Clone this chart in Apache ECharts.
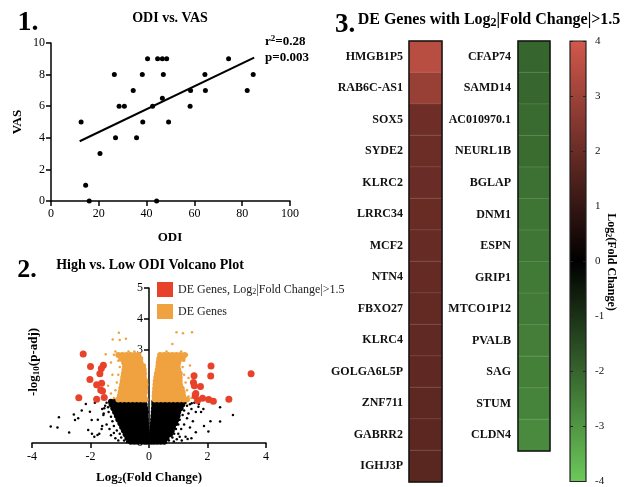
<!DOCTYPE html>
<html>
<head>
<meta charset="utf-8">
<script src="https://cdn.jsdelivr.net/npm/echarts@6/dist/echarts.min.js"></script>
<style>
  html, body { margin: 0; padding: 0; background: #fff; }
  #chart { width: 634px; height: 487px; }
</style>
</head>
<body>
<div id="chart"></div>
<script>
// panel 1: ODI vs VAS
const odiValues = [12.6, 14.5, 16, 20.5, 26.5, 27, 28.5, 30.7, 34.4, 35.8, 38.2, 38.4, 40.4, 42.5, 44.2, 44.6, 46.6, 48.4, 47, 46.6, 49.2, 58.2, 58.4, 64.4, 64.6, 74.3, 82.1, 84.6];
const vasValues = [5, 1, 0, 3, 8, 4, 6, 6, 7, 4, 8, 5, 9, 6, 0, 9, 9, 9, 8, 6.5, 5, 6, 7, 8, 7, 9, 7, 8];
const fitLine = [[12, 3.78], [85, 9.08]];
const xTicks1 = [0, 20, 40, 60, 80, 100];
const yTicks1 = [0, 2, 4, 6, 8, 10];

// panel 2: volcano (log2 fold change, -log10 p-adj)
const redPoints = [[3.49, 2.23], [2.12, 2.48], [2.11, 2.16], [1.54, 2.17], [1.52, 1.95], [1.55, 1.85], [1.76, 1.82],
  [1.58, 1.52], [1.83, 1.44], [1.66, 1.37], [2.04, 1.40], [2.20, 1.35], [2.73, 1.41], [1.6, 1.6],
  [-2.25, 2.87], [-2.0, 2.47], [-1.56, 2.51], [-1.63, 2.40], [-1.68, 2.23], [-2.02, 2.05], [-1.62, 1.93],
  [-1.79, 1.88], [-1.65, 1.71], [-1.59, 1.68], [-2.40, 1.46], [-1.79, 1.41], [-1.53, 1.47]];

const blackCoreRows = [
  [0.04, [-0.62, -0.5, -0.38, -0.26, -0.15, -0.07, 0.07, 0.17, 0.28, 0.4, 0.52]],
  [0.16, [-0.74, -0.61, -0.48, -0.35, -0.22, -0.1, 0.09, 0.22, 0.35, 0.48, 0.6]],
  [0.28, [-0.8, -0.67, -0.54, -0.41, -0.28, -0.16, -0.07, 0.1, 0.23, 0.37, 0.51, 0.64, 0.72]],
  [0.40, [-0.86, -0.73, -0.6, -0.47, -0.34, -0.21, -0.09, 0.11, 0.25, 0.39, 0.53, 0.67, 0.78]],
  [0.52, [-0.92, -0.79, -0.66, -0.53, -0.4, -0.27, -0.15, -0.1, 0.12, 0.26, 0.4, 0.54, 0.68, 0.82]],
  [0.64, [-0.98, -0.84, -0.7, -0.56, -0.42, -0.28, -0.16, -0.1, 0.13, 0.27, 0.41, 0.55, 0.69, 0.83, 0.9]],
  [0.76, [-1.05, -0.91, -0.77, -0.63, -0.49, -0.35, -0.22, -0.11, 0.14, 0.28, 0.42, 0.56, 0.7, 0.84, 0.94]],
  [0.88, [-1.1, -0.96, -0.82, -0.68, -0.54, -0.4, -0.26, -0.13, 0.15, 0.29, 0.43, 0.57, 0.71, 0.85, 0.98]],
  [1.00, [-1.16, -1.02, -0.88, -0.74, -0.6, -0.46, -0.32, -0.19, -0.12, 0.16, 0.3, 0.44, 0.58, 0.72, 0.86, 1.0]],
  [1.12, [-1.22, -1.08, -0.94, -0.8, -0.66, -0.52, -0.38, -0.25, -0.13, 0.17, 0.31, 0.45, 0.59, 0.73, 0.87, 1.01, 1.08]],
  [1.24, [-1.28, -1.14, -1.0, -0.86, -0.72, -0.58, -0.44, -0.3, -0.15, 0.18, 0.32, 0.46, 0.6, 0.74, 0.88, 1.02, 1.14]],
  [1.33, [-1.3, -1.16, -1.02, -0.88, -0.74, -0.6, -0.46, -0.32, -0.18, 0.18, 0.32, 0.46, 0.6, 0.74, 0.88, 1.02, 1.16]]
];
const blackSparse = [[-1.45, 1.3], [-1.4, 1.15], [-1.38, 1.0], [-1.3, 0.85], [-1.25, 0.7], [-1.2, 0.55], [-1.1, 0.4],
  [-1.0, 0.3], [-0.95, 0.18], [-0.85, 0.08], [-0.75, 0.03], [-1.5, 1.2], [-1.55, 0.95], [-1.45, 0.6], [-1.35, 0.45],
  [-1.3, 0.25], [-1.15, 0.15], [-1.6, 0.55], [-1.7, 0.3], [-1.75, 0.75], [-1.6, 1.1], [-1.05, 0.08], [-1.2, 0.32],
  [1.25, 1.3], [1.3, 1.2], [1.2, 1.05], [1.15, 0.9], [1.05, 0.75], [1.0, 0.6], [0.92, 0.45], [0.86, 0.3], [0.8, 0.18],
  [0.68, 0.08], [1.4, 1.25], [1.45, 1.1], [1.35, 0.95], [1.3, 0.8], [1.2, 0.6], [1.1, 0.45], [1.0, 0.3], [0.95, 0.12],
  [1.5, 0.7], [1.4, 0.5], [1.55, 1.3], [1.6, 1.0], [1.25, 0.2], [0.85, 0.05], [1.12, 0.08], [1.05, 0.2],
  [-3.36, 0.53], [-3.13, 0.5], [-3.08, 0.83], [-2.73, 0.34], [-2.57, 0.92], [-2.53, 0.74], [-2.42, 0.8],
  [-2.16, 1.26], [-2.02, 1.01], [-1.96, 0.74], [-2.08, 0.42], [-1.95, 0.3], [-1.76, 0.26], [-1.62, 0.45],
  [-1.56, 0.9], [-1.53, 1.12], [-1.85, 1.3], [-1.87, 0.2], [-2.3, 1.05],
  [1.46, 1.28], [1.69, 1.17], [1.86, 1.1], [2.43, 1.15], [2.87, 0.9], [1.88, 0.55], [2.03, 0.37], [2.43, 0.69],
  [1.32, 0.13], [1.6, 0.35], [2.1, 0.7], [1.7, 1.26], [1.78, 1.0], [1.45, 0.15]];

const orangeCoreRows = [
  [1.40, [-1.05, -0.91, -0.77, -0.63, -0.49, -0.35, -0.22, -0.12, 0.2, 0.34, 0.48, 0.62, 0.76, 0.9, 1.04, 1.18, 1.3]],
  [1.52, [-1.0, -0.86, -0.72, -0.58, -0.44, -0.3, -0.17, 0.19, 0.33, 0.47, 0.61, 0.75, 0.89, 1.03, 1.17]],
  [1.64, [-0.97, -0.83, -0.69, -0.55, -0.41, -0.27, -0.14, 0.2, 0.34, 0.48, 0.62, 0.76, 0.9, 1.04, 1.15]],
  [1.76, [-0.95, -0.81, -0.67, -0.53, -0.39, -0.25, -0.13, 0.21, 0.35, 0.49, 0.63, 0.77, 0.91, 1.05, 1.12]],
  [1.88, [-0.92, -0.78, -0.64, -0.5, -0.36, -0.22, -0.12, 0.22, 0.36, 0.5, 0.64, 0.78, 0.92, 1.06]],
  [2.00, [-0.9, -0.76, -0.62, -0.48, -0.34, -0.2, -0.12, 0.23, 0.37, 0.51, 0.65, 0.79, 0.93, 1.05]],
  [2.12, [-0.88, -0.74, -0.6, -0.46, -0.32, -0.18, 0.25, 0.39, 0.53, 0.67, 0.81, 0.95, 1.05]],
  [2.24, [-0.86, -0.72, -0.58, -0.44, -0.3, -0.17, 0.27, 0.41, 0.55, 0.69, 0.83, 0.97, 1.05]],
  [2.36, [-0.84, -0.7, -0.56, -0.42, -0.28, -0.18, 0.3, 0.44, 0.58, 0.72, 0.86, 1.0]],
  [2.48, [-0.82, -0.68, -0.54, -0.4, -0.26, -0.2, 0.32, 0.46, 0.6, 0.74, 0.88, 0.98]],
  [2.60, [-0.85, -0.71, -0.57, -0.43, -0.29, 0.33, 0.47, 0.61, 0.75, 0.89, 1.0]],
  [2.72, [-0.95, -0.81, -0.67, -0.53, -0.39, -0.3, 0.35, 0.49, 0.63, 0.77, 0.91, 1.05, 1.15]],
  [2.84, [-1.05, -0.91, -0.77, -0.63, -0.49, -0.36, 0.38, 0.52, 0.66, 0.8, 0.94, 1.08, 1.22]]
];
const orangeSparse = [[-1.2, 1.45], [-1.15, 1.7], [-1.1, 1.95], [-1.05, 2.2], [-1.0, 2.45], [-1.05, 2.65], [-1.2, 2.85],
  [-1.3, 2.6], [-1.25, 2.2], [-1.3, 1.6], [-1.4, 1.85], [-1.48, 2.86], [-1.03, 3.56], [-1.0, 3.32], [-1.24, 3.34],
  [-0.79, 3.36], [-0.5, 2.95], [-0.7, 2.95], [-1.15, 2.95],
  [1.35, 1.5], [1.3, 1.7], [1.25, 1.95], [1.2, 2.2], [1.15, 2.45], [1.2, 2.65], [1.3, 2.85], [1.35, 2.1], [1.45, 1.45],
  [1.5, 1.6], [1.4, 2.5], [0.94, 3.57], [1.16, 3.54], [1.47, 3.57], [0.8, 3.19], [1.1, 2.95], [0.6, 2.95]];

// panel 3: heatmap
const upGenes = ['HMGB1P5', 'RAB6C-AS1', 'SOX5', 'SYDE2', 'KLRC2', 'LRRC34', 'MCF2', 'NTN4', 'FBXO27', 'KLRC4', 'GOLGA6L5P', 'ZNF711', 'GABRR2', 'IGHJ3P'];
const upLog2FC = [3.5, 2.9, 2.1, 2.05, 2.0, 1.98, 1.95, 1.92, 1.88, 1.85, 1.82, 1.8, 1.76, 1.72];
const downGenes = ['CFAP74', 'SAMD14', 'AC010970.1', 'NEURL1B', 'BGLAP', 'DNM1', 'ESPN', 'GRIP1', 'MTCO1P12', 'PVALB', 'SAG', 'STUM', 'CLDN4'];
const downLog2FC = [-2.0, -2.05, -2.1, -2.15, -2.25, -2.3, -2.35, -2.4, -2.45, -2.5, -2.55, -2.62, -2.75];

const SERIF = '"Liberation Serif", "Times New Roman", serif';

const rowsToPoints = rows => {
  let pts = [];
  rows.forEach(r => r[1].forEach(x => pts.push([x, r[0]])));
  return pts;
};

const axisBase = (extra) => Object.assign({
  axisLine: { lineStyle: { color: '#000', width: 1.5 } },
  axisTick: { show: true, inside: false, length: 5, lineStyle: { color: '#000', width: 1.5 } },
  axisLabel: { color: '#000', fontFamily: SERIF, fontSize: 12 },
  splitLine: { show: false }
}, extra);

const txt = (x, y, text, size, opts) => Object.assign({
  type: 'text', x: x, y: y, z: 20,
  style: Object.assign({
    text: text, fill: '#000', fontFamily: SERIF, fontSize: size, fontWeight: 'bold',
    align: 'center', verticalAlign: 'middle'
  }, (opts && opts.style) || {})
}, (opts && opts.el) || {});

const subRich = (size) => ({
  b: { fontFamily: SERIF, fontSize: size, fontWeight: 'bold', fill: '#000', color: '#000' },
  s: { fontFamily: SERIF, fontSize: size - 4, fontWeight: 'bold', fill: '#000', color: '#000', verticalAlign: 'bottom', padding: [6, 0, 0, 0] },
  p: { fontFamily: SERIF, fontSize: size - 4, fontWeight: 'bold', fill: '#000', color: '#000', verticalAlign: 'top', padding: [0, 0, 6, 0] }
});

const dots = (name, size, color, data, z) => ({
  type: 'scatter', name: name, xAxisIndex: 1, yAxisIndex: 1, symbolSize: size, z: z || 2,
  itemStyle: { color: color, opacity: 1 }, data: data
});

const getOption = () => {
  return {
    animation: false,
    backgroundColor: '#fff',
    grid: [
      { left: 51, top: 43, width: 239, height: 158 },
      { left: 32, top: 288, width: 234, height: 155 },
      { left: 409, top: 41, width: 33, height: 441, show: true, borderColor: '#111', borderWidth: 1.5, z: 5 },
      { left: 518, top: 41, width: 32, height: 410, show: true, borderColor: '#111', borderWidth: 1.5, z: 5 },
      { left: 570, top: 41, width: 16, height: 441, show: true, borderColor: '#222', borderWidth: 1.2, zlevel: 1 }
    ],
    xAxis: [
      axisBase({ gridIndex: 0, type: 'value', min: xTicks1[0], max: xTicks1[xTicks1.length - 1], interval: 20,
        axisLabel: { color: '#000', fontFamily: SERIF, fontSize: 12, margin: 7 } }),
      axisBase({ gridIndex: 1, type: 'value', min: -4, max: 4, interval: 2,
        axisLabel: { color: '#000', fontFamily: SERIF, fontSize: 12, margin: 8 } }),
      { gridIndex: 2, type: 'category', data: [''], show: false },
      { gridIndex: 3, type: 'category', data: [''], show: false },
      { gridIndex: 4, type: 'value', min: 0, max: 1, show: false }
    ],
    yAxis: [
      axisBase({ gridIndex: 0, type: 'value', min: yTicks1[0], max: yTicks1[yTicks1.length - 1], interval: 2,
        axisLabel: { color: '#000', fontFamily: SERIF, fontSize: 12, margin: 6 } }),
      axisBase({ gridIndex: 1, type: 'value', min: 0, max: 5, interval: 1, position: 'left', offset: -117,
        axisLine: { onZero: false, lineStyle: { color: '#000', width: 1.5 } },
        axisLabel: { color: '#000', fontFamily: SERIF, fontSize: 12, margin: 6 } }),
      { gridIndex: 2, type: 'category', data: upGenes, inverse: true,
        axisLine: { show: false }, axisTick: { show: false },
        axisLabel: { color: '#111', fontFamily: SERIF, fontSize: 12, fontWeight: 'bold', margin: 6 } },
      { gridIndex: 3, type: 'category', data: downGenes, inverse: true,
        axisLine: { show: false }, axisTick: { show: false },
        axisLabel: { color: '#111', fontFamily: SERIF, fontSize: 12, fontWeight: 'bold', margin: 7 } },
      { gridIndex: 4, type: 'value', min: -4, max: 4, interval: 1, position: 'right', zlevel: 1,
        axisLine: { show: false }, axisTick: { show: false },
        splitLine: { show: true, lineStyle: { color: '#222', width: 1, type: [3, 10] } },
        axisLabel: { color: '#111', fontFamily: SERIF, fontSize: 11, margin: 9 } }
    ],
    visualMap: {
      type: 'continuous', min: -4, max: 4, seriesIndex: [7, 8], calculable: false,
      left: 570, top: 41, itemWidth: 16, itemHeight: 441, padding: 0, text: null,
      inRange: { color: ['#6cc95a', '#000000', '#d2584b'] }
    },
    legend: {
      orient: 'vertical', left: 157, top: 282, padding: 0, itemGap: 7, itemWidth: 16, itemHeight: 15, icon: 'rect',
      data: ['DEFC', 'DE Genes'], selectedMode: false,
      formatter: (name) => name === 'DEFC' ? '{t|DE Genes, Log}{s|2}{t||Fold Change|>1.5}' : '{t|DE Genes}',
      textStyle: {
        rich: {
          t: { fontFamily: SERIF, fontSize: 12, color: '#222' },
          s: { fontFamily: SERIF, fontSize: 8, color: '#222', verticalAlign: 'bottom', padding: [5, 0, 0, 0] }
        }
      }
    },
    series: [
      { type: 'scatter', xAxisIndex: 0, yAxisIndex: 0, symbolSize: 5, itemStyle: { color: '#000', opacity: 1 },
        data: odiValues.map((v, i) => [v, vasValues[i]]) },
      { type: 'line', xAxisIndex: 0, yAxisIndex: 0, data: fitLine, symbol: 'none',
        lineStyle: { color: '#000', width: 2 } },
      dots('ns', 6, '#000', rowsToPoints(blackCoreRows)),
      dots('ns', 2.5, '#000', blackSparse),
      dots('DE Genes', 6, '#EFA23F', rowsToPoints(orangeCoreRows)),
      dots('DE Genes', 2.5, '#EFA23F', orangeSparse),
      dots('DEFC', 7, '#E8422B', redPoints, 4),
      { type: 'heatmap', xAxisIndex: 2, yAxisIndex: 2,
        itemStyle: { borderColor: 'rgba(255,255,255,0.12)', borderWidth: 1 },
        data: upLog2FC.map((v, i) => [0, i, v]) },
      { type: 'heatmap', xAxisIndex: 3, yAxisIndex: 3,
        itemStyle: { borderColor: 'rgba(255,255,255,0.12)', borderWidth: 1 },
        data: downLog2FC.map((v, i) => [0, i, v]) }
    ],
    graphic: [
      txt(28, 23, '1.', 28),
      txt(170, 18, 'ODI vs. VAS', 14),
      txt(265, 42, '{b|r}{p|2}{b|=0.28}', 13, { style: { align: 'left', rich: subRich(13) } }),
      txt(265, 58, 'p=0.003', 13, { style: { align: 'left' } }),
      txt(18, 122, 'VAS', 13, { el: { rotation: Math.PI / 2 } }),
      txt(170, 238, 'ODI', 13),
      txt(27, 270, '2.', 26),
      txt(150, 265, 'High vs. Low ODI Volcano Plot', 14),
      txt(34, 362, '{b|-log}{s|10}{b|(p-adj)}', 13, { el: { rotation: Math.PI / 2 }, style: { rich: subRich(13) } }),
      txt(149, 478, '{b|Log}{s|2}{b|(Fold Change)}', 13, { style: { rich: subRich(13) } }),
      txt(345, 25, '3.', 27),
      txt(489, 20, '{b|DE Genes with Log}{s|2}{b||Fold Change|>1.5}', 16, { style: { rich: subRich(16) } }),
      txt(611, 262, '{b|Log}{s|2}{b|(Fold Change)}', 12, { el: { rotation: -Math.PI / 2 }, style: { rich: subRich(12) } })
    ]
  };
};

const initCharts = () => {
  const chart = echarts.init(document.getElementById('chart'));
  chart.setOption(getOption());
};

window.addEventListener('load', () => {
  initCharts();
});
</script>
</body>
</html>
